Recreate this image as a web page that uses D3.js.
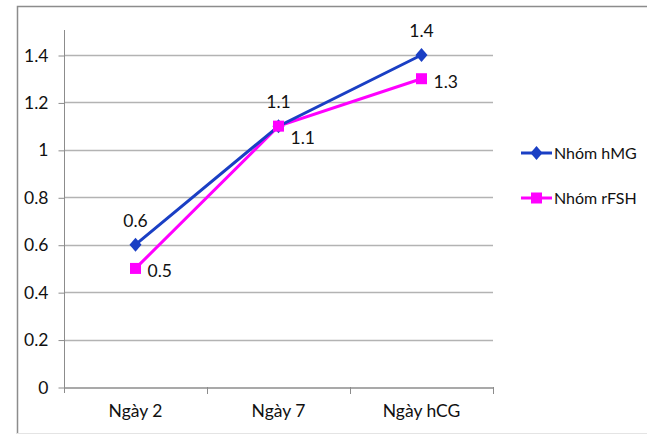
<!DOCTYPE html>
<html>
<head>
<meta charset="utf-8">
<script src="https://cdn.jsdelivr.net/npm/d3@7"></script>
<style>
  html, body { margin: 0; padding: 0; background: #fff; }
  svg { display: block; font-family: "Lato", "Open Sans", sans-serif; }
</style>
</head>
<body>
<svg id="chart" width="647" height="434"></svg>
<script>
// Hormone level by day, two treatment groups
const categories = ["Ngày 2", "Ngày 7", "Ngày hCG"];
const hmgValues = [0.6, 1.1, 1.4];
const rfshValues = [0.5, 1.1, 1.3];
const yTicks = [0, 0.2, 0.4, 0.6, 0.8, 1, 1.2, 1.4];
const seriesNames = ["Nhóm hMG", "Nhóm rFSH"];

const svg = d3.select("#chart");
const W = 647, H = 434;
const FONT = "Lato, 'Open Sans', sans-serif";

// outer frame
svg.append("path")
  .attr("d", `M17.5,${H} L17.5,6.5 L${W},6.5`)
  .attr("fill", "none").attr("stroke", "#8c8c8c").attr("stroke-width", 1.5);
svg.append("line")
  .attr("x1", 17).attr("x2", W).attr("y1", 433.5).attr("y2", 433.5)
  .attr("stroke", "#e4e4e4");

const plot = { left: 64, right: 493, top: 30, bottom: 387 };

const x = d3.scaleBand().domain(categories).range([plot.left, plot.right]);
const y = d3.scaleLinear().domain([0, 1.4]).range([plot.bottom, 55]);

// horizontal gridlines
svg.append("g").selectAll("line").data(yTicks.filter(d => d > 0)).join("line")
  .attr("x1", plot.left).attr("x2", plot.right)
  .attr("y1", d => Math.round(y(d)) + 0.5).attr("y2", d => Math.round(y(d)) + 0.5)
  .attr("stroke", "#b3b3b3").attr("stroke-width", 1.3);

// y axis
const yAxis = svg.append("g").attr("transform", `translate(${plot.left + 0.5},0.5)`)
  .call(d3.axisLeft(y).tickValues(yTicks).tickSize(6).tickPadding(10)
    .tickFormat(d => d3.format("")(+d.toFixed(1))));
yAxis.select(".domain").remove();
yAxis.selectAll(".tick line").attr("stroke", "#8c8c8c");
yAxis.selectAll("text").attr("font-size", 17.5).attr("fill", "#111")
  .attr("font-family", FONT);
svg.append("line")
  .attr("x1", plot.left + 0.5).attr("x2", plot.left + 0.5)
  .attr("y1", plot.top).attr("y2", plot.bottom + 6)
  .attr("stroke", "#8c8c8c");

// x axis
const xAxis = svg.append("g").attr("transform", `translate(0,${Math.round(y(0)) + 0.5})`)
  .call(d3.axisBottom(x).tickSize(0).tickPadding(17));
xAxis.select(".domain").attr("stroke", "#8c8c8c").attr("stroke-width", 1.3);
xAxis.selectAll("text").attr("font-size", 17.5).attr("fill", "#111")
  .attr("font-family", FONT);
// category separators
svg.append("g").selectAll("line").data(categories).join("line")
  .attr("x1", d => Math.round(x(d) + x.bandwidth()) + 0.5)
  .attr("x2", d => Math.round(x(d) + x.bandwidth()) + 0.5)
  .attr("y1", Math.round(y(0))).attr("y2", Math.round(y(0)) + 7)
  .attr("stroke", "#8c8c8c");

const cx = d => x(d) + x.bandwidth() / 2;
const line = d3.line().x(d => cx(d.c)).y(d => y(d.v));

const series = [
  { name: seriesNames[0], color: "#1a3fc4", values: hmgValues, shape: "diamond" },
  { name: seriesNames[1], color: "#ff00ff", values: rfshValues, shape: "square" }
];

function marker(g, shape, color) {
  if (shape === "diamond") {
    g.append("path").attr("d", "M0,-7 L6,0 L0,7 L-6,0 Z").attr("fill", color);
  } else {
    g.append("rect").attr("x", -5.5).attr("y", -5.5).attr("width", 11).attr("height", 11).attr("fill", color);
  }
}

// lines: rFSH drawn first, hMG on top
[series[1], series[0]].forEach(s => {
  const pts = categories.map((c, i) => ({ c, v: s.values[i] }));
  svg.append("path").datum(pts)
    .attr("d", line).attr("fill", "none")
    .attr("stroke", s.color).attr("stroke-width", 3);
});
// markers: hMG then rFSH (square visible over diamond at shared point)
series.forEach(s => {
  categories.forEach((c, i) => {
    const g = svg.append("g").attr("transform", `translate(${cx(c)},${y(s.values[i])})`);
    marker(g, s.shape, s.color);
  });
});

// data labels: hMG above the point, rFSH to the right
// (the shared point at day 7 pushes the rFSH label down to keep them apart)
const rfshLabelDy = [9, 18, 9];
const lbl = (xx, yy, t) => svg.append("text").attr("x", xx).attr("y", yy)
  .attr("font-size", 17.5).attr("fill", "#111").text(t);
categories.forEach((c, i) => {
  lbl(cx(c), y(hmgValues[i]) - 18, d3.format(".1f")(hmgValues[i])).attr("text-anchor", "middle");
  lbl(cx(c) + 12, y(rfshValues[i]) + rfshLabelDy[i], d3.format(".1f")(rfshValues[i])).attr("text-anchor", "start");
});

// legend
series.forEach((s, i) => {
  const ly = 153 + i * 45;
  const g = svg.append("g").attr("transform", `translate(521,${ly})`);
  g.append("line").attr("x1", 0).attr("x2", 31).attr("y1", 0).attr("y2", 0)
    .attr("stroke", s.color).attr("stroke-width", 3);
  const m = g.append("g").attr("transform", "translate(15.5,0)");
  marker(m, s.shape, s.color);
  g.append("text").attr("x", 33).attr("y", 6).attr("font-size", 16)
    .attr("fill", "#111").text(s.name);
});
</script>
</body>
</html>
